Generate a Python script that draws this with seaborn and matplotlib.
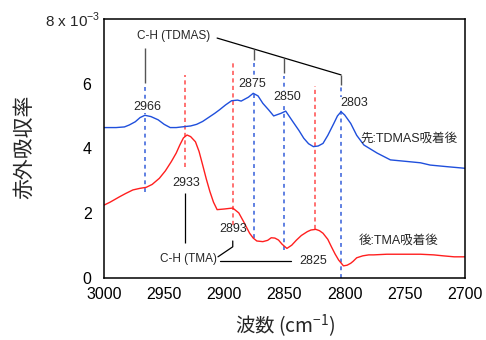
import pandas as pd
import matplotlib
matplotlib.use("Agg")
import matplotlib.pyplot as plt
import seaborn as sns

# wavenumber (cm-1) / absorbance (x 1e-3)
tdmas_wn = [3000, 2990, 2983, 2979, 2974, 2970, 2966, 2961, 2955, 2950, 2945, 2940, 2933,
            2928, 2923, 2918, 2912, 2908, 2904, 2899, 2894, 2889, 2886, 2880, 2876, 2872,
            2868, 2863, 2859, 2853, 2849, 2843, 2838, 2834, 2830, 2826, 2822, 2818, 2814,
            2809, 2806, 2803, 2800, 2795, 2790, 2784, 2773, 2762, 2748, 2737, 2729, 2715, 2700]
tdmas_abs = [4.64, 4.64, 4.66, 4.72, 4.82, 4.95, 5.02, 4.98, 4.88, 4.74, 4.64, 4.64, 4.67,
             4.69, 4.74, 4.83, 4.98, 5.08, 5.19, 5.34, 5.47, 5.49, 5.46, 5.58, 5.70, 5.62,
             5.39, 5.18, 5.00, 5.08, 5.15, 4.82, 4.55, 4.31, 4.14, 4.05, 4.07, 4.15, 4.40,
             4.77, 5.00, 5.13, 5.03, 4.77, 4.40, 4.10, 3.85, 3.64, 3.59, 3.55, 3.48, 3.43, 3.38]

tma_wn = [3000, 2995, 2987, 2982, 2976, 2970, 2965, 2960, 2954, 2949, 2944, 2940, 2937,
          2934, 2931, 2928, 2924, 2921, 2918, 2915, 2912, 2909, 2906, 2900, 2893, 2888,
          2884, 2879, 2876, 2873, 2868, 2864, 2861, 2858, 2855, 2852, 2848, 2844, 2840,
          2836, 2831, 2828, 2824, 2821, 2818, 2814, 2811, 2808, 2805, 2801, 2798, 2795,
          2793, 2790, 2785, 2780, 2776, 2765, 2748, 2737, 2726, 2718, 2709, 2700]
tma_abs = [2.24, 2.33, 2.50, 2.60, 2.71, 2.76, 2.79, 2.88, 3.07, 3.30, 3.59, 3.85, 4.10,
           4.32, 4.41, 4.36, 4.20, 3.90, 3.48, 3.05, 2.66, 2.33, 2.10, 2.12, 2.15, 2.00,
           1.73, 1.37, 1.22, 1.13, 1.11, 1.15, 1.23, 1.22, 1.16, 1.03, 0.90, 1.00, 1.16,
           1.30, 1.42, 1.47, 1.49, 1.45, 1.37, 1.18, 0.95, 0.73, 0.54, 0.36, 0.38, 0.44,
           0.50, 0.61, 0.67, 0.70, 0.70, 0.72, 0.72, 0.72, 0.70, 0.67, 0.64, 0.64]

# peak markers: position, top, bottom
tdmas_peaks = [2966, 2875, 2850, 2803]
tdmas_top = [5.96, 6.67, 6.24, 5.93]
tdmas_bot = [2.66, 1.22, 0.85, 0.0]
tma_peaks = [2933, 2893, 2825]
tma_top = [6.27, 6.63, 5.93]
tma_bot = [3.43, 1.63, 1.50]

xticks = [3000, 2950, 2900, 2850, 2800, 2750, 2700]
yticks = [0, 2, 4, 6, 8]
ytick_labels = ["0", "2", "4", "6", ""]

df = pd.concat([
    pd.DataFrame({"wn": tdmas_wn, "abs": tdmas_abs, "s": "TDMAS"}),
    pd.DataFrame({"wn": tma_wn, "abs": tma_abs, "s": "TMA"}),
])

sns.set_style("white")
plt.rcParams["font.family"] = ["Liberation Sans", "Noto Sans CJK JP"]
plt.rcParams["mathtext.fontset"] = "custom"
plt.rcParams["mathtext.rm"] = "Liberation Sans"

fig = plt.figure(figsize=(4.86, 3.40), dpi=100)
ax = fig.add_axes([104 / 486, 1 - 277.5 / 340, 361 / 486, 258.5 / 340])

blue, red = "#1f4fdc", "#ff1f1f"
ax.vlines(tdmas_peaks, tdmas_bot, tdmas_top, colors="#5f80e2", lw=1.4, linestyles=(0, (2, 2)))
ax.vlines(tma_peaks, tma_bot, tma_top, colors="#ff5a5a", lw=1.2, linestyles=(0, (2.5, 2)))

sns.lineplot(data=df, x="wn", y="abs", hue="s", palette={"TDMAS": blue, "TMA": red},
             sort=False, lw=1.0, legend=False, ax=ax)
ax.set_xlabel("")
ax.set_ylabel("")

lbl = dict(ha="center", va="center", fontsize=9, zorder=5,
           bbox=dict(facecolor="white", edgecolor="none", pad=0.3))

# TDMAS annotation
ax.text(2942, 7.46, "C-H (TDMAS)", ha="center", va="center", fontsize=8.5)
ax.plot([2906, 2803], [7.41, 6.27], color="black", lw=0.9)
ax.vlines([2966, 2875, 2850, 2803], [6.01, 6.73, 6.32, 5.96], [7.10, 7.07, 6.79, 6.27],
          colors="#555555", lw=1.0)
for x, y, t in [(2964, 5.29, "2966"), (2877, 5.98, "2875"), (2848, 5.58, "2850"), (2792, 5.39, "2803")]:
    ax.text(x, y, t, **lbl)
ax.text(2787, 4.31, "先:TDMAS吸着後", ha="left", va="center", fontsize=9)

# TMA annotation
ax.text(2932, 2.92, "2933", ha="center", va="center", fontsize=9)
ax.vlines([2933], [1.08], [2.61], colors="black", lw=0.9)
ax.text(2893, 1.50, "2893", ha="center", va="center", fontsize=9)
ax.plot([2905.3, 2893, 2893], [0.64, 0.95, 1.13], color="black", lw=0.9)
ax.text(2930, 0.56, "C-H (TMA)", ha="center", va="center", fontsize=8.5)
ax.plot([2903.6, 2845], [0.51, 0.51], color="black", lw=0.9)
ax.text(2826, 0.52, "2825", ha="center", va="center", fontsize=9)
ax.text(2788, 1.13, "後:TMA吸着後", ha="left", va="center", fontsize=9)

ax.set_xlim(3000, 2700)
ax.set_ylim(0, 8)
ax.set_xticks(xticks)
ax.set_xticklabels([str(v) for v in xticks], fontsize=11.5)
ax.set_yticks(yticks)
ax.set_yticklabels(ytick_labels, fontsize=11.5)
ax.tick_params(direction="in", length=6, width=1, colors="black")
ax.tick_params(axis="x", pad=7)
ax.tick_params(axis="y", pad=9)
for s in ax.spines.values():
    s.set_color("black")
    s.set_linewidth(1.1)

# scale factor label at top of y axis
ax.text(-0.011, 1.0, "8 x 10$^{\\mathregular{-3}}$", transform=ax.transAxes,
        ha="right", va="center_baseline", fontsize=11)

fig.text(24 / 486, 1 - 147 / 340, "赤外吸収率", rotation=90, ha="center", va="center",
         fontsize=15, family="Noto Sans CJK JP")
fig.text(285 / 486, 1 - 326 / 340, "波数 (cm$^{\\mathregular{-1}}$)", ha="center", va="center",
         fontsize=14, family="Noto Sans CJK JP")

fig.savefig("out.png", dpi=100)
